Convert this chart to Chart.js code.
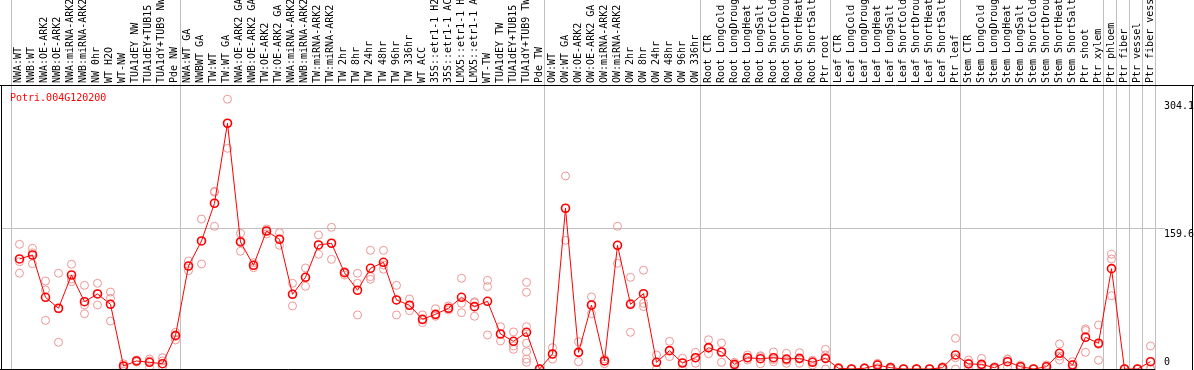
<!DOCTYPE html>
<html>
<head>
    <meta charset="UTF-8">
    <title>Potri.004G120200</title>
    <script src="https://cdn.jsdelivr.net/npm/chart.js"></script>
    <style>
        html, body { margin: 0; padding: 0; background: #fff; }
    </style>
</head>
<body>
    <canvas id="myChart" width="1194" height="370"></canvas>
    <script>
        const geneName = 'Potri.004G120200';

        const categories = [
            'NWA:WT', 'NWB:WT', 'NWA:OE-ARK2', 'NWB:OE-ARK2', 'NWA:miRNA-ARK2', 'NWB:miRNA-ARK2',
            'NW 0hr', 'WT H2O', 'WT-NW', 'TUA1dEY NW', 'TUA1dEY+TUB15 NW', 'TUA1dY+TUB9 NW', 'Pde NW',
            'NWA:WT GA', 'NWBWT GA', 'TW:WT', 'TW:WT GA', 'NWA:OE-ARK2 GA', 'NWB:OE-ARK2 GA',
            'TW:OE-ARK2', 'TW:OE-ARK2 GA', 'NWA:miRNA-ARK2 GA', 'NWB:miRNA-ARK2 GA', 'TW:miRNA-ARK2',
            'TW:miRNA-ARK2 GA', 'TW 2hr', 'TW 8hr', 'TW 24hr', 'TW 48hr', 'TW 96hr', 'TW 336hr',
            'WT ACC', '35S::etr1-1 H2O', '35S::etr1-1 ACC', 'LMX5::etr1-1 H2O', 'LMX5::etr1-1 ACC',
            'WT-TW', 'TUA1dEY TW', 'TUA1dEY+TUB15 TW', 'TUA1dY+TUB9 TW', 'Pde TW',
            'OW:WT', 'OW:WT GA', 'OW:OE-ARK2', 'OW:OE-ARK2 GA', 'OW:miRNA-ARK2', 'OW:miRNA-ARK2 GA',
            'OW 2hr', 'OW 8hr', 'OW 24hr', 'OW 48hr', 'OW 96hr', 'OW 336hr',
            'Root CTR', 'Root LongCold', 'Root LongDrought', 'Root LongHeat', 'Root LongSalt',
            'Root ShortCold', 'Root ShortDrought', 'Root ShortHeat', 'Root ShortSalt', 'Ptr root',
            'Leaf CTR', 'Leaf LongCold', 'Leaf LongDrought', 'Leaf LongHeat', 'Leaf LongSalt',
            'Leaf ShortCold', 'Leaf ShortDrought', 'Leaf ShortHeat', 'Leaf ShortSalt', 'Ptr leaf',
            'Stem CTR', 'Stem LongCold', 'Stem LongDrought', 'Stem LongHeat', 'Stem LongSalt',
            'Stem ShortCold', 'Stem ShortDrought', 'Stem ShortHeat', 'Stem ShortSalt', 'Ptr shoot',
            'Ptr xylem', 'Ptr phloem', 'Ptr fiber', 'Ptr vessel', 'Ptr fiber vessel'
        ];

        // mean expression per sample (red line)
        const meanValues = [
            124.8, 129.3, 81.3, 68.9, 106.6, 76.3, 85.1, 73.4, 3.4, 9.1, 7.6, 6.0, 37.8,
            116.8, 145.2, 188.0, 278.7, 144.1, 117.6, 156.5, 147.1, 84.7, 104.0, 140.7, 142.6,
            109.2, 89.3, 114.2, 121.0, 78.3, 72.3, 56.4, 62.0, 68.9, 81.3, 70.7, 76.8, 39.7,
            31.4, 41.6, 0,
            17.0, 182.3, 18.9, 72.6, 9.1, 140.3, 73.4, 85.4, 7.6, 20.8, 6.8, 12.8,
            24.2, 19.3, 5.3, 12.8, 11.7, 12.8, 11.3, 12.1, 7.6, 12.1,
            0.8, 0, 0.8, 4.5, 1.5, 0, 0, 0, 1.5, 15.9,
            5.7, 5.3, 1.5, 8.3, 2.6, 0, 2.6, 17.8, 4.5, 36.0, 29.2,
            113.8, 0, 0, 8.3
        ];

        // individual replicates (pale circles)
        const replicates = [
            [141.4, 121.7, 108.6], [136.9, 131.6, 119.4], [99.8, 89.6, 55.2], [108.6, 30.3, 68.1],
            [118.8, 99.0, 102.1], [94.9, 72.6, 62.7], [97.2, 72.6, 85.5], [87.3, 80.2, 54.4],
            [6.0, 3.0, 1.2], [10.2, 8.0, 9.1], [11.3, 9.1, 1.5], [12.8, 9.1, 2.6], [41.6, 32.9, 38.6],
            [122.5, 111.5, 116.8], [170.1, 119.1, 145.2], [200.6, 161.8, 201.5], [306.0, 250.3, 278.7],
            [153.9, 133.5, 145.2], [120.6, 114.9, 117.6], [158.8, 153.1, 156.5], [154.6, 140.3, 147.1],
            [97.2, 71.5, 85.1], [114.6, 93.8, 104.0], [152.0, 130.1, 140.7], [160.7, 124.4, 142.6],
            [110.4, 106.6, 110.4], [108.6, 97.2, 61.3], [134.6, 104.7, 101.7], [134.6, 113.1, 118.0],
            [94.9, 78.3, 61.3], [79.4, 66.1, 72.3], [61.3, 52.6, 55.6], [68.4, 59.8, 61.3],
            [71.5, 66.9, 68.9], [102.9, 74.5, 63.9], [75.2, 59.8, 76.3], [100.6, 93.4, 38.6],
            [48.0, 31.8, 39.7], [42.1, 26.1, 22.3], [98.3, 87.0, 48.0, 29.2, 19.6, 11.3, 7.6],
            [0.5, 0, 0],
            [24.2, 11.3, 17.0], [218.9, 146.0, 182.3], [31.0, 8.3, 18.9], [81.7, 62.7, 72.6],
            [11.3, 6.0, 9.1], [161.9, 119.9, 140.3], [104.0, 41.6, 74.5], [112.0, 74.5, 70.7],
            [15.9, 0, 7.6], [31.4, 14.0, 20.8], [12.1, 0, 6.8], [18.9, 6.5, 12.8],
            [33.2, 17.4, 23.4], [29.5, 7.6, 19.3], [7.6, 3.7, 4.5], [15.9, 10.2, 12.8],
            [15.1, 6.0, 14.0], [19.3, 8.3, 10.8], [17.8, 6.5, 9.6], [18.5, 6.5, 11.3],
            [9.9, 4.5, 8.4], [22.3, 15.9, 0],
            [1.8, 0, 0.6], [0, 0, 0], [1.5, 0.5, 0.4], [6.5, 1.5, 5.5], [2.6, 0, 2.0],
            [0, 0, 0], [0, 0, 0], [0, 0, 0], [2.6, 0, 2.0], [34.8, 0, 12.8],
            [10.2, 0, 6.8], [12.1, 0, 3.7], [2.6, 0, 2.0], [11.3, 2.6, 11.0], [4.5, 0, 3.3],
            [0, 0, 0], [4.5, 0, 3.3], [28.4, 10.2, 14.7], [8.3, 0, 5.2], [45.4, 18.9, 43.7],
            [49.9, 9.9, 27.8],
            [130.1, 124.8, 83.1], [0, 0, 0], [0, 0, 0], [26.1, 0, 1.0]
        ];

        // first sample index of each tissue block (last entry = end)
        const groupStarts = [0, 13, 41, 53, 63, 73, 84, 85, 86, 87, 88];
        const gridValue = 159.6;
        const yTickLabels = ['0', '159.6', '304.1'];
        const yTickValues = [0, 159.6, 304.1];

        const meanPoints = meanValues.map((v, i) => ({ x: i, y: v }));
        const repPoints = [];
        replicates.forEach((reps, i) => reps.forEach(v => repPoints.push({ x: i, y: v })));

        const FONT = '10px "DejaVu Sans Mono", monospace';

        const decor = {
            id: 'decor',
            beforeDatasetsDraw(chart) {
                const c = chart.ctx;
                const xs = chart.scales.x, ys = chart.scales.y;
                const area = chart.chartArea;
                c.save();
                c.fillStyle = '#fff';
                c.fillRect(0, 0, chart.width, chart.height);
                // block separators, full height
                c.strokeStyle = '#c0c0c0';
                c.lineWidth = 1;
                groupStarts.forEach(g => {
                    const px = Math.round(xs.getPixelForValue(g - 0.65)) + 0.5;
                    c.beginPath();
                    c.moveTo(px, 0);
                    c.lineTo(px, chart.height);
                    c.stroke();
                });
                const gy = Math.round(ys.getPixelForValue(gridValue)) + 0.5;
                c.beginPath();
                c.moveTo(area.left, gy);
                c.lineTo(area.right + 10, gy);
                c.stroke();
                // frame
                c.strokeStyle = '#000';
                c.beginPath();
                c.moveTo(0, area.top + 0.5);
                c.lineTo(chart.width, area.top + 0.5);
                c.moveTo(area.left + 0.5, area.top);
                c.lineTo(area.left + 0.5, chart.height);
                c.moveTo(0, area.bottom + 0.5);
                c.lineTo(area.right, area.bottom + 0.5);
                c.moveTo(chart.width - 1.5, area.top);
                c.lineTo(chart.width - 1.5, chart.height);
                c.stroke();
                c.restore();
            },
            afterDraw(chart) {
                const c = chart.ctx;
                const xs = chart.scales.x, ys = chart.scales.y;
                const area = chart.chartArea;
                c.save();
                c.font = FONT;
                // sample names, rotated
                c.fillStyle = '#000';
                c.textAlign = 'left';
                c.textBaseline = 'alphabetic';
                categories.forEach((name, i) => {
                    const px = xs.getPixelForValue(i);
                    c.save();
                    c.translate(px + 2, area.top - 2);
                    c.rotate(-Math.PI / 2);
                    c.fillText(name, 0, 0);
                    c.restore();
                });
                // gene id
                c.fillStyle = '#ff0000';
                c.fillText(geneName, 10, area.top + 16);
                // right axis values
                c.fillStyle = '#000';
                yTickValues.forEach((v, k) => {
                    const py = ys.getPixelForValue(v);
                    c.textBaseline = v === 0 ? 'bottom' : 'top';
                    c.fillText(yTickLabels[k], area.right + 9, v === 0 ? py - 2 : py + 1);
                });
                c.restore();
            }
        };

        const ctx = document.getElementById('myChart').getContext('2d');
        const chart = new Chart(ctx, {
            type: 'scatter',
            data: {
                datasets: [
                    {
                        label: 'mean',
                        data: meanPoints,
                        showLine: true,
                        borderColor: '#ff0000',
                        borderWidth: 1,
                        pointRadius: 4,
                        pointBorderWidth: 1.6,
                        pointBorderColor: '#ff0000',
                        pointBackgroundColor: 'rgba(0,0,0,0)',
                        order: 0
                    },
                    {
                        label: 'replicates',
                        data: repPoints,
                        showLine: false,
                        pointRadius: 4,
                        pointBorderWidth: 1,
                        pointBorderColor: 'rgb(238,150,150)',
                        pointBackgroundColor: 'rgba(0,0,0,0)',
                        order: 1
                    }
                ]
            },
            options: {
                responsive: false,
                animation: false,
                devicePixelRatio: 1,
                layout: { autoPadding: false, padding: { left: 1, right: 39, top: 85, bottom: 1 } },
                scales: {
                    x: { type: 'linear', min: -1.423, max: 87.346, display: false },
                    y: { type: 'linear', min: 0, max: 322.1, display: false }
                },
                plugins: {
                    legend: { display: false },
                    tooltip: { enabled: false }
                }
            },
            plugins: [decor]
        });
    </script>
</body>
</html>
